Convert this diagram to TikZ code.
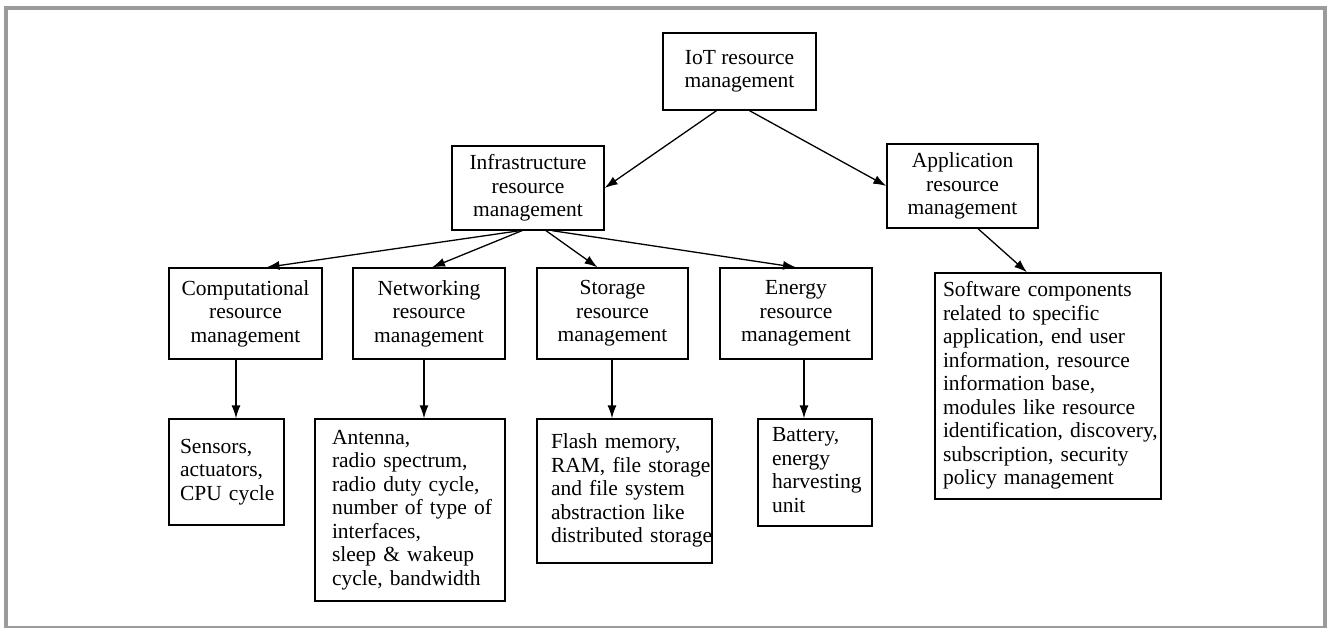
\documentclass[tikz,border=0pt]{standalone}
\usepackage{fontspec}
\setmainfont{Liberation Serif}
\usepackage{tikz}
\usetikzlibrary{arrows.meta}
\definecolor{framegray}{HTML}{9B9B9B}
\newcommand{\itemlines}[1]{\begin{tabular}{@{}l@{}}#1\end{tabular}}

\begin{document}
\begin{tikzpicture}[x=1pt,y=-1pt,
        mgmt/.style={draw=black,line width=1.3pt,align=center,inner sep=0pt,
          font=\fontsize{21.5}{23.5}\selectfont},
        detail/.style={draw=black,line width=1.3pt,align=left,inner ysep=0pt,
          font=\fontsize{21.5}{23.5}\selectfont},
        link/.style={-{Latex[length=13pt,width=9pt]},line width=1.3pt}]
      \useasboundingbox (0,0) rectangle (1327,628);
      \draw [framegray,line width=4pt] (6,8) rectangle (1325,628);
      % top levels
      \node [mgmt,minimum width=153pt,minimum height=77pt] (iot)   at (739.5,71.5) {IoT resource\\management};
      \node [mgmt,minimum width=152pt,minimum height=84pt] (infra) at (528,188)    {Infrastructure\\resource\\management};
      \node [mgmt,minimum width=151pt,minimum height=84pt] (app)   at (962.5,186)  {Application\\resource\\management};
      \node [mgmt,minimum width=153pt,minimum height=91pt] (comp)  at (245.5,313.5) {Computational\\resource\\management};
      \node [mgmt,minimum width=152pt,minimum height=91pt] (net)   at (429,313.5)   {Networking\\resource\\management};
      \node [mgmt,minimum width=151pt,minimum height=91pt] (stor)  at (612.5,313.5) {Storage\\resource\\management};
      \node [mgmt,minimum width=152pt,minimum height=91pt] (ener)  at (796,313.5)   {Energy\\resource\\management};
      % details
      \node [detail,inner xsep=11pt,text width=93pt,minimum height=106pt]  (sens)  at (226.5,472)
        {\itemlines{Sensors,\\actuators,\\CPU cycle}};
      \node [detail,inner xsep=17pt,text width=156pt,minimum height=182pt] (ante)  at (410,510)
        {\itemlines{Antenna,\\radio spectrum,\\radio duty cycle,\\number of type of\\interfaces,\\sleep \& wakeup\\cycle, bandwidth}};
      \node [detail,inner xsep=14pt,text width=147pt,minimum height=144pt] (flash) at (624.5,491)
        {\itemlines{Flash memory,\\RAM, file storage\\and file system\\abstraction like\\distributed storage}};
      \node [detail,inner xsep=14pt,text width=86pt,minimum height=107pt]  (batt)  at (815,472.5)
        {\itemlines{Battery,\\energy\\harvesting\\unit}};
      \node [detail,inner xsep=8pt,text width=210pt,minimum height=226pt] (soft) at (1048,386)
        {\itemlines{Software components\\related to specific\\application, end user\\information, resource\\information base,\\modules like resource\\identification, discovery,\\subscription, security\\policy management}};
      % connectors
      \draw [link] ([xshift=-23pt]iot.south) -- (infra.east);
      \draw [link] ([xshift=10pt]iot.south) -- (app.west);
      \draw [link] ([xshift=-8pt]infra.south) -- ([xshift=21pt]comp.north);
      \draw [link] ([xshift=-6pt]infra.south) -- ([xshift=3pt]net.north);
      \draw [link] ([xshift=18pt]infra.south) -- ([xshift=-15pt]stor.north);
      \draw [link] ([xshift=24pt]infra.south) -- (ener.north);
      \draw [link] ([xshift=15.5pt]app.south) -- ([xshift=-21pt]soft.north);
      \draw [link] ([xshift=-9.5pt]comp.south) -- ([xshift=9.5pt]sens.north);
      \draw [link] ([xshift=-5pt]net.south) -- ([xshift=14pt]ante.north);
      \draw [link] ([xshift=-0.5pt]stor.south) -- ([xshift=-0.5pt]stor.south |- flash.north);
      \draw [link] ([xshift=8pt]ener.south) -- ([xshift=8pt]ener.south |- batt.north);
    \end{tikzpicture}
\end{document}
